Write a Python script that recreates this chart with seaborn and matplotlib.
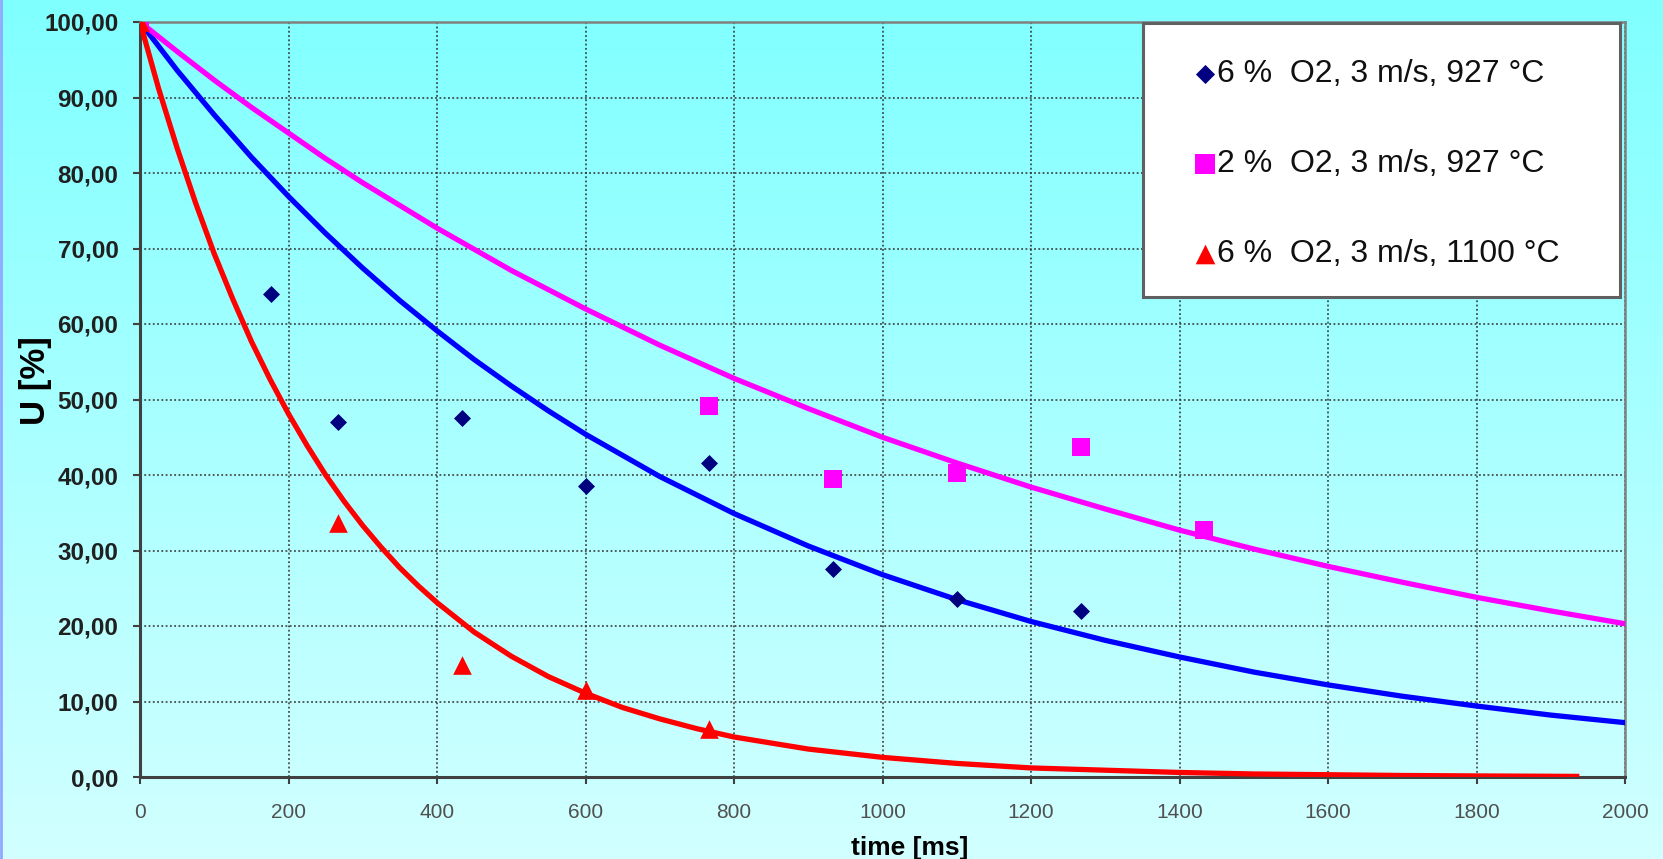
import numpy as np
import pandas as pd
import matplotlib
matplotlib.use("Agg")
import matplotlib.pyplot as plt
import seaborn as sns
from matplotlib.ticker import FuncFormatter
from matplotlib.colors import LinearSegmentedColormap
from matplotlib.patches import Rectangle

# ---------------- data ----------------
labels = ["6 %  O2, 3 m/s, 927 °C", "2 %  O2, 3 m/s, 927 °C", "6 %  O2, 3 m/s, 1100 °C"]

# measured points
t_blue = [0, 177, 267, 433, 600, 767, 933, 1100, 1267]
u_blue = [100.0, 64.0, 47.0, 47.6, 38.6, 41.6, 27.5, 23.6, 22.0]
t_mag = [0, 767, 933, 1100, 1267, 1433]
u_mag = [100.0, 49.2, 39.5, 40.3, 43.7, 32.7]
t_red = [0, 267, 433, 600, 767]
u_red = [100.0, 33.7, 14.9, 11.5, 6.3]

# trend lines
ct_blue = [0, 50, 100, 150, 200, 250, 300, 350, 400, 450, 500, 550, 600, 700, 800, 900,
           1000, 1100, 1200, 1300, 1400, 1500, 1600, 1700, 1800, 1900, 2000]
cu_blue = [100.0, 93.6, 87.7, 82.1, 76.9, 72.0, 67.4, 63.1, 59.1, 55.3, 51.8, 48.5, 45.4,
           39.8, 34.9, 30.6, 26.8, 23.5, 20.6, 18.1, 15.9, 13.9, 12.2, 10.7, 9.4, 8.2, 7.2]
ct_mag = [0, 50, 100, 150, 200, 250, 300, 350, 400, 500, 600, 700, 800, 900, 1000, 1100,
          1200, 1300, 1400, 1500, 1600, 1700, 1800, 1900, 2000]
cu_mag = [100.0, 96.1, 92.3, 88.7, 85.3, 81.9, 78.7, 75.7, 72.7, 67.1, 62.0, 57.2, 52.8,
          48.8, 45.0, 41.6, 38.4, 35.5, 32.7, 30.2, 27.9, 25.8, 23.8, 22.0, 20.3]
ct_red = [0, 25, 50, 75, 100, 125, 150, 175, 200, 225, 250, 275, 300, 325, 350, 375, 400,
          450, 500, 550, 600, 650, 700, 750, 800, 900, 1000, 1100, 1200, 1300, 1400, 1500,
          1600, 1700, 1800, 1935]
cu_red = [100.0, 91.2, 83.3, 76.0, 69.3, 63.3, 57.7, 52.7, 48.1, 43.9, 40.0, 36.5, 33.3,
          30.4, 27.7, 25.3, 23.1, 19.2, 16.0, 13.3, 11.1, 9.2, 7.7, 6.4, 5.3, 3.7, 2.6,
          1.8, 1.2, 0.9, 0.6, 0.4, 0.3, 0.2, 0.14, 0.08]

x_ticks = [0, 200, 400, 600, 800, 1000, 1200, 1400, 1600, 1800, 2000]
y_ticks = [0, 10, 20, 30, 40, 50, 60, 70, 80, 90, 100]

# ---------------- figure ----------------
W, H = 1663, 859
fig = plt.figure(figsize=(W / 100, H / 100), dpi=100)

# gradient background
bg = fig.add_axes([0, 0, 1, 1], zorder=-10)
cmap = LinearSegmentedColormap.from_list("bg", ["#D2FFFF", "#80FFFF"])
grad = np.linspace(0, 1, 256).reshape(-1, 1)
bg.imshow(grad, aspect="auto", cmap=cmap, origin="lower", extent=[0, 1, 0, 1])
bg.axis("off")
bg.plot([0.0006, 0.0006], [0, 1], color="#90A8FF", lw=2, transform=bg.transAxes)

L, R, T, B = 140, 1625, 22, 777
ax = fig.add_axes([L / W, 1 - B / H, (R - L) / W, (B - T) / H])
ax.patch.set_alpha(0)

# trend lines
sns.lineplot(x=ct_blue, y=cu_blue, color="#0000FF", lw=3.8, ax=ax, zorder=3, legend=False)
sns.lineplot(x=ct_mag, y=cu_mag, color="#FF00FF", lw=3.8, ax=ax, zorder=3, legend=False)
sns.lineplot(x=ct_red, y=cu_red, color="#FF0000", lw=3.8, ax=ax, zorder=3, legend=False)

# points
sns.scatterplot(x=t_blue, y=u_blue, marker="D", color="#000080", s=75, linewidth=0,
                ax=ax, zorder=5, label=labels[0])
sns.scatterplot(x=t_mag, y=u_mag, marker="s", color="#FF00FF", s=170, linewidth=0,
                ax=ax, zorder=5, label=labels[1])
sns.scatterplot(x=t_red, y=u_red, marker="^", color="#FF0000", s=180, linewidth=0,
                ax=ax, zorder=6, label=labels[2])

handles, lbls = ax.get_legend_handles_labels()
if ax.get_legend() is not None:
    ax.get_legend().remove()

ax.set_xlim(0, 2000)
ax.set_ylim(0, 100)
ax.set_xticks(x_ticks)
ax.set_yticks(y_ticks)
ax.yaxis.set_major_formatter(FuncFormatter(lambda v, p: f"{v:.2f}".replace(".", ",")))
ax.xaxis.set_major_formatter(FuncFormatter(lambda v, p: f"{int(v)}"))

for lbl in ax.get_yticklabels():
    lbl.set_fontweight("bold")
    lbl.set_fontsize(17.5)
    lbl.set_color("#202020")
    lbl.set_fontfamily("Liberation Sans")
for lbl in ax.get_xticklabels():
    lbl.set_fontsize(15)
    lbl.set_color("#505050")
    lbl.set_fontfamily("Liberation Sans")

ax.tick_params(axis="y", direction="out", length=5, width=1.5, color="#404040", pad=10.5)
ax.tick_params(axis="x", direction="out", length=5, width=1.5, color="#404040", pad=14)

ax.grid(True, color="#303030", lw=1.1, linestyle=(0, (1.2, 1.6)))
ax.set_axisbelow(True)

for s in ["left", "bottom"]:
    ax.spines[s].set_color("#404040")
    ax.spines[s].set_linewidth(2.2)
for s in ["top", "right"]:
    ax.spines[s].set_color("#808080")
    ax.spines[s].set_linewidth(1.8)

ax.set_xlabel("time [ms]", fontsize=19, fontweight="bold", family="Liberation Sans")
ax.xaxis.set_label_coords((910 - L) / (R - L), -(836 - B) / (B - T))
ax.set_ylabel("U [%]", fontsize=25, fontweight="bold", family="Liberation Sans")
ax.yaxis.set_label_coords(-(L - 52) / (R - L), (B - 381) / (B - T))

# legend box
fig.patches.append(Rectangle((1143 / W, 1 - 297 / H), (1620 - 1143) / W, (297 - 23) / H,
                             transform=fig.transFigure, facecolor="white",
                             edgecolor="#606060", lw=2.2, zorder=10))
leg = fig.legend(handles, lbls, loc="upper left",
                 bbox_to_anchor=(1176 / W, 1 - 43 / H), bbox_transform=fig.transFigure,
                 frameon=False, borderpad=0, handlelength=0.8, handletextpad=-0.03,
                 labelspacing=1.88, prop={"family": "Liberation Sans", "size": 23})
leg.set_zorder(11)
for h, sz in zip(leg.legend_handles, [95, 190, 200]):
    h.set_sizes([sz])
for txt in leg.get_texts():
    txt.set_color("#101010")

fig.savefig("out.png", dpi=100)
